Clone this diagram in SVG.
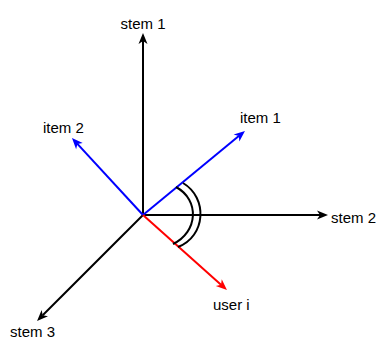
<svg xmlns="http://www.w3.org/2000/svg" width="382" height="340" viewBox="0 0 382 340">
<style>
.t{font-family:"Liberation Sans",Arial,sans-serif;font-size:15px;fill:#000}
.ax{stroke:#000;stroke-width:2;fill:none}
.bl{stroke:#0000ff;stroke-width:2;fill:none}
.rd{stroke:#ff0000;stroke-width:2;fill:none}
.arc{stroke:#000;stroke-width:2;fill:none}
</style>
<defs>
<marker id="mk" markerWidth="12" markerHeight="10" refX="3" refY="5" orient="auto" markerUnits="userSpaceOnUse" overflow="visible"><path d="M0,0.5 L11,5 L0,9.5 L3,5 Z" fill="#000"/></marker>
<marker id="mb" markerWidth="12" markerHeight="10" refX="3" refY="5" orient="auto" markerUnits="userSpaceOnUse" overflow="visible"><path d="M0,0.5 L11,5 L0,9.5 L3,5 Z" fill="#0000ff"/></marker>
<marker id="mr" markerWidth="12" markerHeight="10" refX="3" refY="5" orient="auto" markerUnits="userSpaceOnUse" overflow="visible"><path d="M0,0.5 L11,5 L0,9.5 L3,5 Z" fill="#ff0000"/></marker>
</defs>
<rect width="382" height="340" fill="#fff"/>
<g id="connectors">
<line class="ax" x1="143" y1="215" x2="143" y2="41" marker-end="url(#mk)"/>
<line class="ax" x1="143" y1="215" x2="320" y2="215" marker-end="url(#mk)"/>
<line class="ax" x1="143" y1="215" x2="42.7" y2="315.3" marker-end="url(#mk)"/>
<line class="bl" x1="143" y1="215" x2="77.4" y2="143.9" marker-end="url(#mb)"/>
<line class="bl" x1="143" y1="215" x2="238.8" y2="136.1" marker-end="url(#mb)"/>
<line class="rd" x1="143" y1="215" x2="221" y2="284.7" marker-end="url(#mr)"/>
<path class="arc" d="M176,187 C200,200 198,232 173,244"/>
<path class="arc" d="M183,183 C208,198 206,236 178,247"/>
</g>
<g id="stem1"><text class="t" x="143" y="29" text-anchor="middle">stem 1</text></g>
<g id="stem2"><text class="t" x="331" y="223">stem 2</text></g>
<g id="stem3"><text class="t" x="10" y="337">stem 3</text></g>
<g id="item1"><text class="t" x="240" y="123">item 1</text></g>
<g id="item2"><text class="t" x="43" y="133">item 2</text></g>
<g id="useri"><text class="t" x="213" y="310">user i</text></g>
</svg>
